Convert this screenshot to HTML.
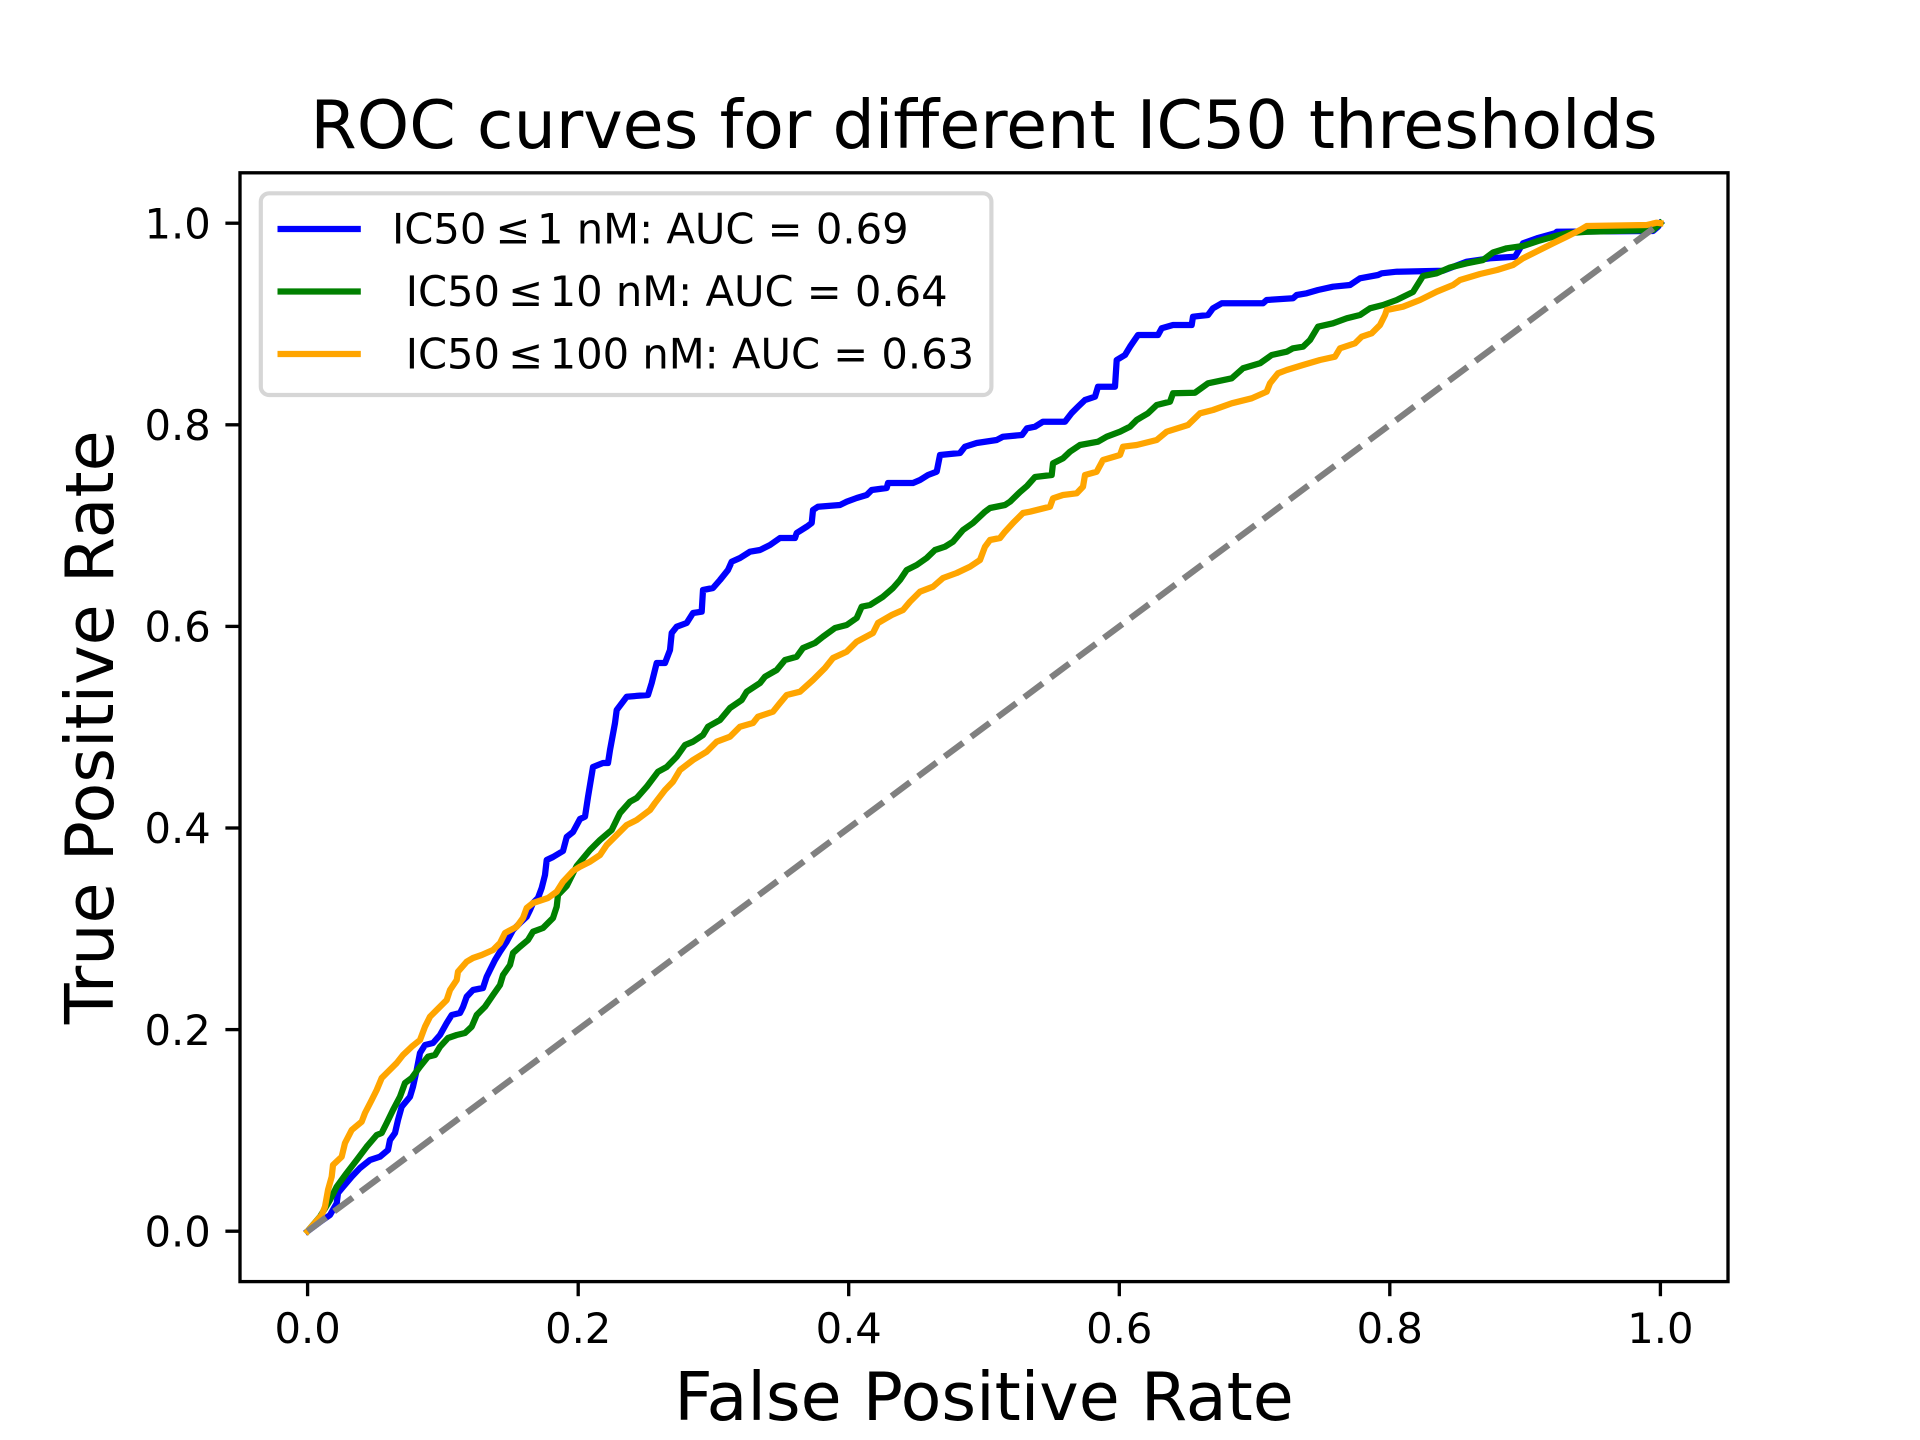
<!DOCTYPE html>
<html>
<head>
<meta charset="utf-8">
<style>
html,body{margin:0;padding:0;background:#fff;}
svg{display:block;}
text{font-family:"DejaVu Sans","Liberation Sans",sans-serif;fill:#000;}
</style>
</head>
<body>
<svg width="1920" height="1440" viewBox="0 0 1920 1440" xmlns="http://www.w3.org/2000/svg">
<rect x="0" y="0" width="1920" height="1440" fill="#ffffff"/>

<!-- Title -->
<text x="984" y="148" font-size="66.67" text-anchor="middle">ROC curves for different IC50 thresholds</text>

<!-- Curves -->
<g fill="none" stroke-width="6.25" stroke-linejoin="round" stroke-linecap="square">
<polyline stroke="#0000ff" points="307.6,1231.2 320,1222 330,1215 336.7,1203.3 338,1193 343,1187 351.7,1176.7 360,1168 370,1160 380,1156.7 388,1150 390,1140 395,1133 398,1120 401.7,1106.7 410,1096.7 413,1086.7 416.7,1070 420,1053 425,1045 433,1043 440,1035 446.7,1023 451.7,1015 460,1013 463,1007 466.7,996.7 473,990 483,988 486.7,976.7 490,970 495,960 500,951.7 506.7,941.7 513,930 520,923 526.7,916.7 530,910 533,903 538,898 541.7,888 545,875 546.7,860 553,857 563,851 566.7,837 573,832 580,819 585,816.7 588,797 593,767 603,763 608,763 610,750 615,723 616.7,710 626.7,696.7 648,695 651.7,683 656.7,663 665,663 670,650 671.7,633 676.7,626.7 686.7,623 693,613 701.7,611.7 703,590 713,588 720,580 728,570 731.7,561.7 740,558 750,551.7 760,550 770,545 780,538 795,538 796.7,533 806.7,526.7 811.7,523 813,510 818,506.7 840,505 846.7,501.7 856.7,498 866.7,495 871.7,490 886.7,488 888,483 913,483 920,480 928,475 936.7,471.7 940,455 960,453 965,446.7 976.7,443 996.7,440 1003,436.7 1022,435 1027,428.3 1035,426.7 1043,421.7 1065,421.7 1071.7,413 1078,406.7 1085,400 1095,396.7 1098,386.7 1115,386.7 1116.7,360 1125,355 1130,346.7 1138,335 1158,335 1161.7,328.3 1173,325 1191.7,325 1193,316.7 1208,315 1213,308.3 1221.7,303.3 1263,303.3 1266.7,300 1293,298.3 1296.7,295 1306.7,293.3 1318,290 1333,286.7 1350,285 1360,278.3 1378,275 1381.7,273.3 1396.7,271.7 1443,270.7 1466.7,261.7 1490,258.3 1515,256.7 1523,243.3 1537,238.3 1555,233.3 1557,231.7 1653,231 1658,226.7 1660.4,223.2"/>
<polyline stroke="#008000" points="307.6,1231.2 320,1216.7 330,1200 336.7,1186.7 346.7,1173 356.7,1160 366.7,1146.7 376.7,1135 381.7,1133 386.7,1123 393,1110 400,1096.7 405,1083 411.7,1078 420,1066.7 428,1056.7 435,1055 440,1046.7 448,1038 456.7,1035 465,1033 471.7,1026.7 476.7,1015 485,1006.7 493,995 500,985 503,975 510,965 513,953 520,946.7 528,940 533,931.7 543,928 553,918 556.7,906.7 558,895 566.7,886 576.7,866 590,850 600,840 611.7,830 620,813 630,801.7 636.7,798 646.7,786.7 658,771.7 666.7,767 676.7,756.7 685,745 693,741.7 703,735 708,726.7 720,720 730,708 741.7,700 746.7,691.7 760,683 765,676.7 776.7,670 785,660 796.7,656.7 803,648 815,643 823,636.7 835,628 846.7,625 856.7,618 861.7,606.7 870,605 883,596.7 893,588 900,580 906.7,570 916.7,565 926.7,558 935,550 945,546.7 953,541.7 963,530 973,523 985,511.7 990,508 1005,505 1010,501.7 1020,492 1027,486 1035,477 1051.7,475 1053,463.3 1063,458.3 1070,451.7 1080,445 1098,441.7 1106.7,436.7 1120,431.7 1130,426.7 1136.7,420 1148,413.3 1156.7,405 1170,401.7 1173,393.3 1195,392.7 1208,383.3 1231.7,378.3 1243,368.3 1260,363.3 1271.7,355 1286.7,351.7 1293,348.3 1303,346.7 1310,340 1318,326.7 1333,323.3 1346.7,318.3 1360,315 1370,308.3 1383,305 1396.7,300 1413,292 1423,276 1436.7,273.3 1450,267.5 1466.7,263.3 1483,260 1493,252.5 1506.7,248.3 1523,246 1538,241 1553,236.7 1566.7,233.3 1586.7,231.7 1653,230 1660.4,223.2"/>
<polyline stroke="#ffa500" points="307.6,1231.2 321.7,1215 325,1206.7 328,1190 331.7,1176.7 333,1165 341.7,1156.7 345,1143 351.7,1130 361.7,1121.7 365,1113 371.7,1100 376.7,1090 381.7,1078 388,1071.7 396.7,1063 403,1055 411.7,1046.7 420,1040 425,1026.7 430,1016.7 436.7,1010 446.7,1000 450,990 456.7,980 458,971.7 466.7,961.7 473,958 481.7,955 493,950 500,943 505,933 516.7,926.7 523,918 526.7,908 533,903 548,898 556.7,891.7 563,881.7 573,871 580,866.7 590,861.7 600,855 606.7,845 616.7,835 626.7,825 636.7,820 650,810 655,803 665,790 673,781.7 680,770 693,760 706.7,751.7 716.7,741.7 730,736.7 740,726.7 753,723 758,716.7 773,711.7 780,703 786.7,695 800,691.7 813,680 825,668 833,658 846.7,651.7 856.7,641.7 873,633 878,623 891.7,615 903,610 910,601.7 920,591.7 933,586.7 943,578 956.7,573 970,566.7 980,560 985,546.7 990,540 1000,538 1005,531.7 1013,523 1023,513 1030,511.7 1050,506.7 1053,498.3 1063,495 1076.7,493.3 1083,486.7 1085,475 1096.7,471.7 1103,460 1120,455 1123,446.7 1136.7,445 1156.7,440 1166.7,431.7 1188,425 1200,413.3 1213,410 1231.7,403.3 1251.7,398.3 1266.7,391.7 1270,383.3 1278,373.3 1286.7,370 1303,365 1320,360 1335,356.7 1340,348.3 1355,343.3 1361.7,336.7 1371.7,333.3 1380,325 1385,315 1386.7,310 1403,306.7 1420,300 1436.7,291.7 1453,285 1460,280 1480,274 1497,270 1513,265 1523,258.3 1533,253.3 1543,248.3 1553,243.3 1566.7,236.7 1580,230 1586.7,226 1646.7,225 1656.7,222.7 1660.4,223.2"/>
<line x1="307.6" y1="1231.2" x2="1660.4" y2="223.2" stroke="#808080" stroke-dasharray="23.1 10" stroke-linecap="butt"/>
</g>

<!-- Axes spines -->
<rect x="240" y="172.8" width="1488" height="1108.8" fill="none" stroke="#000" stroke-width="3.33" stroke-linejoin="miter"/>

<!-- X ticks -->
<g stroke="#000" stroke-width="3.33">
<line x1="307.6" y1="1281.6" x2="307.6" y2="1296.2"/>
<line x1="578.2" y1="1281.6" x2="578.2" y2="1296.2"/>
<line x1="848.7" y1="1281.6" x2="848.7" y2="1296.2"/>
<line x1="1119.3" y1="1281.6" x2="1119.3" y2="1296.2"/>
<line x1="1389.8" y1="1281.6" x2="1389.8" y2="1296.2"/>
<line x1="1660.4" y1="1281.6" x2="1660.4" y2="1296.2"/>
<!-- Y ticks -->
<line x1="240" y1="1231.2" x2="225.4" y2="1231.2"/>
<line x1="240" y1="1029.6" x2="225.4" y2="1029.6"/>
<line x1="240" y1="828" x2="225.4" y2="828"/>
<line x1="240" y1="626.4" x2="225.4" y2="626.4"/>
<line x1="240" y1="424.8" x2="225.4" y2="424.8"/>
<line x1="240" y1="223.2" x2="225.4" y2="223.2"/>
</g>

<!-- X tick labels -->
<g font-size="41.67" text-anchor="middle">
<text x="307.6" y="1343">0.0</text>
<text x="578.2" y="1343">0.2</text>
<text x="848.7" y="1343">0.4</text>
<text x="1119.3" y="1343">0.6</text>
<text x="1389.8" y="1343">0.8</text>
<text x="1660.4" y="1343">1.0</text>
</g>
<!-- Y tick labels -->
<g font-size="41.67" text-anchor="end">
<text x="210.8" y="1246.4">0.0</text>
<text x="210.8" y="1044.8">0.2</text>
<text x="210.8" y="843.2">0.4</text>
<text x="210.8" y="641.6">0.6</text>
<text x="210.8" y="440">0.8</text>
<text x="210.8" y="238.4">1.0</text>
</g>

<!-- Axis labels -->
<text x="984" y="1420" font-size="66.67" text-anchor="middle">False Positive Rate</text>
<text x="0" y="0" font-size="66.67" text-anchor="middle" transform="translate(113,727.2) rotate(-90)">True Positive Rate</text>

<!-- Legend -->
<rect x="260.8" y="193.3" width="730.6" height="201.7" rx="8.3" ry="8.3" fill="#ffffff" fill-opacity="0.8" stroke="#d6d6d6" stroke-width="4.17"/>
<g stroke-width="6.25" stroke-linecap="butt">
<line x1="277.5" y1="229" x2="360.8" y2="229" stroke="#0000ff"/>
<line x1="277.5" y1="291.5" x2="360.8" y2="291.5" stroke="#008000"/>
<line x1="277.5" y1="354" x2="360.8" y2="354" stroke="#ffa500"/>
</g>
<g font-size="41.67">
<text y="243.6"><tspan x="392">IC50</tspan><tspan x="495.5">≤</tspan><tspan x="537">1 nM: AUC = 0.69</tspan></text>
<text y="306.1"><tspan x="405.7">IC50</tspan><tspan x="508.3">≤</tspan><tspan x="549.6">10 nM: AUC = 0.64</tspan></text>
<text y="368.6"><tspan x="405.7">IC50</tspan><tspan x="508.3">≤</tspan><tspan x="549.6">100 nM: AUC = 0.63</tspan></text>
</g>
</svg>
</body>
</html>
